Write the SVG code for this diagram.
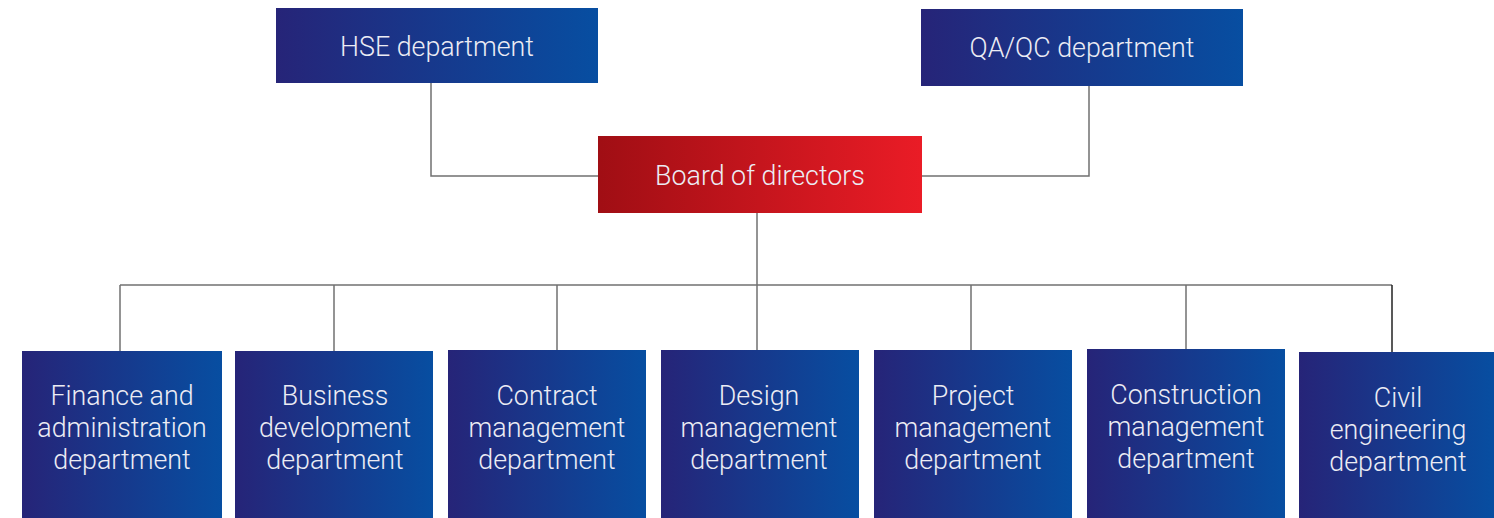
<svg xmlns="http://www.w3.org/2000/svg" width="1494" height="518" viewBox="0 0 1494 518">
<defs>
<linearGradient id="blue" x1="0" y1="0" x2="1" y2="0">
<stop offset="0" stop-color="#262478"/>
<stop offset="1" stop-color="#074ea1"/>
</linearGradient>
<linearGradient id="red" x1="0" y1="0" x2="1" y2="0">
<stop offset="0" stop-color="#a00e14"/>
<stop offset="1" stop-color="#ea1c26"/>
</linearGradient>
</defs>
<style>
.b{fill:url(#blue)}
.r{fill:url(#red)}
text{font-family:Roboto,"Liberation Sans",sans-serif;font-weight:300;font-size:26.8px;fill:#ececf4;text-anchor:middle}
.c{fill:none;stroke:#707070;stroke-width:1.5}
</style>
<g id="connectors">
<polyline class="c" points="431,83 431,176 598,176"/>
<polyline class="c" points="922,176 1089,176 1089,86"/>
<line class="c" x1="757" y1="213" x2="757" y2="350"/>
<line class="c" x1="120" y1="285" x2="1392" y2="285"/>
<line class="c" x1="120" y1="285" x2="120" y2="351"/>
<line class="c" x1="334" y1="285" x2="334" y2="351"/>
<line class="c" x1="557" y1="285" x2="557" y2="350"/>
<line class="c" x1="971" y1="285" x2="971" y2="350"/>
<line class="c" x1="1186" y1="285" x2="1186" y2="349"/>
<line class="c" x1="1392" y1="285" x2="1392" y2="357" style="stroke:#222"/>
</g>
<g id="hse"><rect class="b" x="276" y="8" width="322" height="75"/><text x="437" y="56">HSE department</text></g>
<g id="qaqc"><rect class="b" x="921" y="9" width="322" height="77"/><text x="1082" y="57">QA/QC department</text></g>
<g id="board"><rect class="r" x="598" y="136" width="324" height="77"/><text x="760" y="185">Board of directors</text></g>
<g id="finance"><rect class="b" x="22" y="351" width="200" height="167"/><text x="122" y="405">Finance and</text><text x="122" y="437">administration</text><text x="122" y="469">department</text></g>
<g id="business"><rect class="b" x="235" y="351" width="198" height="167"/><text x="335" y="405">Business</text><text x="335" y="437">development</text><text x="335" y="469">department</text></g>
<g id="contract"><rect class="b" x="448" y="350" width="198" height="168"/><text x="547" y="405">Contract</text><text x="547" y="437">management</text><text x="547" y="469">department</text></g>
<g id="design"><rect class="b" x="661" y="350" width="198" height="168"/><text x="759" y="405">Design</text><text x="759" y="437">management</text><text x="759" y="469">department</text></g>
<g id="project"><rect class="b" x="874" y="350" width="198" height="168"/><text x="973" y="405">Project</text><text x="973" y="437">management</text><text x="973" y="469">department</text></g>
<g id="construction"><rect class="b" x="1087" y="349" width="198" height="169"/><text x="1186" y="404">Construction</text><text x="1186" y="436">management</text><text x="1186" y="468">department</text></g>
<g id="civil"><rect class="b" x="1299" y="352" width="195" height="166"/><text x="1398" y="407">Civil</text><text x="1398" y="439">engineering</text><text x="1398" y="471">department</text></g>
</svg>
